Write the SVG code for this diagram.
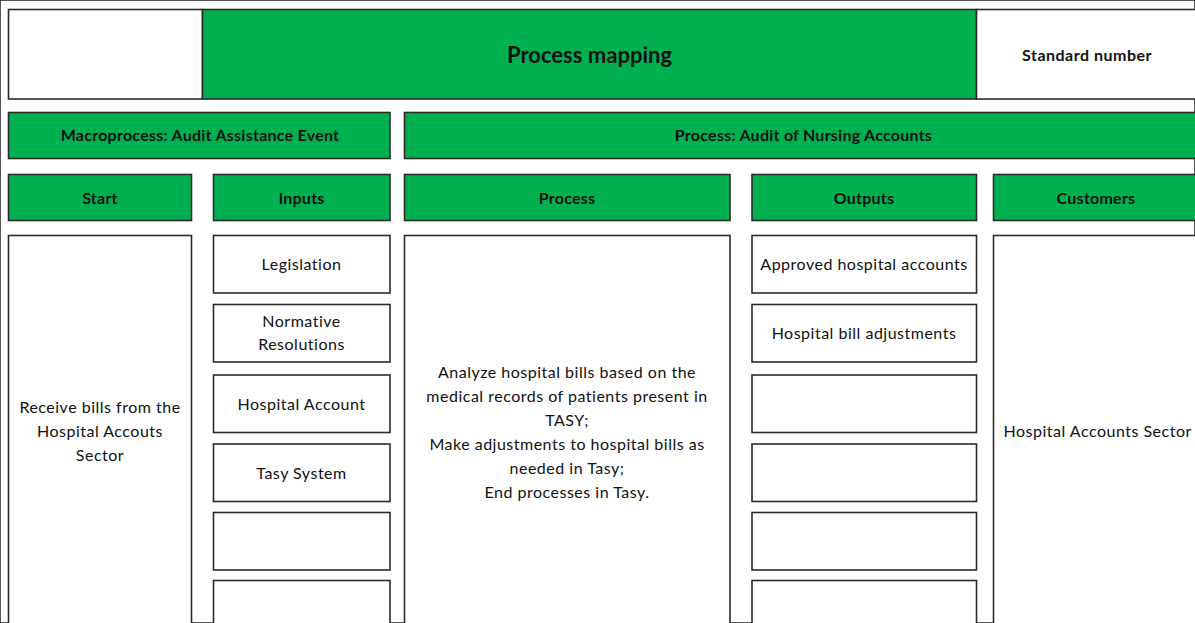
<svg xmlns="http://www.w3.org/2000/svg" width="1195" height="623" viewBox="0 0 1195 623">
  <style>
    rect { stroke: #2b2b2b; stroke-width: 1.6; }
    .g { fill: #00B050; }
    .w { fill: #ffffff; }
    text { font-family: Lato, "Open Sans", "Liberation Sans", sans-serif; fill: #111; text-anchor: middle; dominant-baseline: central; }
    .hd { font-weight: bold; font-size: 16px; letter-spacing: 0.25px; }
    .sn { font-weight: bold; font-size: 16px; letter-spacing: 0.5px; }
    .title { font-weight: bold; font-size: 22px; }
    .bd { font-size: 16px; letter-spacing: 0.5px; }
  </style>
  <rect width="1195" height="623" fill="#ffffff" stroke="none"/>

  <!-- title bar -->
  <g id="title-blank"><rect class="w" x="8.5" y="9.5" width="194" height="89.5"/></g>
  <g id="title"><rect class="g" x="202.5" y="9.5" width="774" height="89.5"/>
    <text class="title" x="589.5" y="54">Process mapping</text></g>
  <g id="standard-number"><rect class="w" x="976.5" y="9.5" width="230" height="89.5"/>
    <text class="sn" x="1087" y="54">Standard number</text></g>

  <!-- second row -->
  <g id="macroprocess"><rect class="g" x="8.5" y="112.5" width="381.5" height="46"/>
    <text class="hd" x="200" y="134">Macroprocess: Audit Assistance Event</text></g>
  <g id="process-name"><rect class="g" x="404.5" y="112.5" width="800" height="46"/>
    <text class="hd" x="803.5" y="134">Process: Audit of Nursing Accounts</text></g>

  <!-- column headers -->
  <g id="h-start"><rect class="g" x="8.5" y="174.5" width="183" height="46"/>
    <text class="hd" x="100" y="197">Start</text></g>
  <g id="h-inputs"><rect class="g" x="213.5" y="174.5" width="176.5" height="46"/>
    <text class="hd" x="301.5" y="197">Inputs</text></g>
  <g id="h-process"><rect class="g" x="404.5" y="174.5" width="325.5" height="46"/>
    <text class="hd" x="567" y="197">Process</text></g>
  <g id="h-outputs"><rect class="g" x="752" y="174.5" width="224.5" height="46"/>
    <text class="hd" x="864" y="197">Outputs</text></g>
  <g id="h-customers"><rect class="g" x="993.5" y="174.5" width="212" height="46"/>
    <text class="hd" x="1096" y="197">Customers</text></g>

  <!-- start column -->
  <g id="start"><rect class="w" x="8.5" y="235.5" width="183" height="400"/>
    <text class="bd" x="100" y="406">Receive bills from the</text>
    <text class="bd" x="100" y="430">Hospital Accouts</text>
    <text class="bd" x="100" y="454">Sector</text></g>

  <!-- inputs column -->
  <g id="in-1"><rect class="w" x="213.5" y="235.5" width="176.5" height="57.5"/>
    <text class="bd" x="301.5" y="263">Legislation</text></g>
  <g id="in-2"><rect class="w" x="213.5" y="304.5" width="176.5" height="57.5"/>
    <text class="bd" x="301.5" y="320">Normative</text>
    <text class="bd" x="301.5" y="343.5">Resolutions</text></g>
  <g id="in-3"><rect class="w" x="213.5" y="375" width="176.5" height="57.5"/>
    <text class="bd" x="301.5" y="403">Hospital Account</text></g>
  <g id="in-4"><rect class="w" x="213.5" y="444" width="176.5" height="57.5"/>
    <text class="bd" x="301.5" y="472">Tasy System</text></g>
  <g id="in-5"><rect class="w" x="213.5" y="512.5" width="176.5" height="57.5"/></g>
  <g id="in-6"><rect class="w" x="213.5" y="580.5" width="176.5" height="57.5"/></g>

  <!-- process column -->
  <g id="process"><rect class="w" x="404.5" y="235.5" width="325.5" height="400"/>
    <text class="bd" x="567" y="371.5">Analyze hospital bills based on the</text>
    <text class="bd" x="567" y="395.5">medical records of patients present in</text>
    <text class="bd" x="567" y="419.5">TASY;</text>
    <text class="bd" x="567" y="443.5">Make adjustments to hospital bills as</text>
    <text class="bd" x="567" y="467.5">needed in Tasy;</text>
    <text class="bd" x="567" y="491.5">End processes in Tasy.</text></g>

  <!-- outputs column -->
  <g id="out-1"><rect class="w" x="752" y="235.5" width="224.5" height="57.5"/>
    <text class="bd" x="864" y="263">Approved hospital accounts</text></g>
  <g id="out-2"><rect class="w" x="752" y="304.5" width="224.5" height="57.5"/>
    <text class="bd" x="864" y="332.5">Hospital bill adjustments</text></g>
  <g id="out-3"><rect class="w" x="752" y="375" width="224.5" height="57.5"/></g>
  <g id="out-4"><rect class="w" x="752" y="444" width="224.5" height="57.5"/></g>
  <g id="out-5"><rect class="w" x="752" y="512.5" width="224.5" height="57.5"/></g>
  <g id="out-6"><rect class="w" x="752" y="580.5" width="224.5" height="57.5"/></g>

  <!-- customers column -->
  <g id="customers"><rect class="w" x="993.5" y="235.5" width="212" height="400"/>
    <text class="bd" x="1003.5" y="430.5" style="text-anchor:start">Hospital Accounts Sector</text></g>

  <g id="connectors"></g>
</svg>
